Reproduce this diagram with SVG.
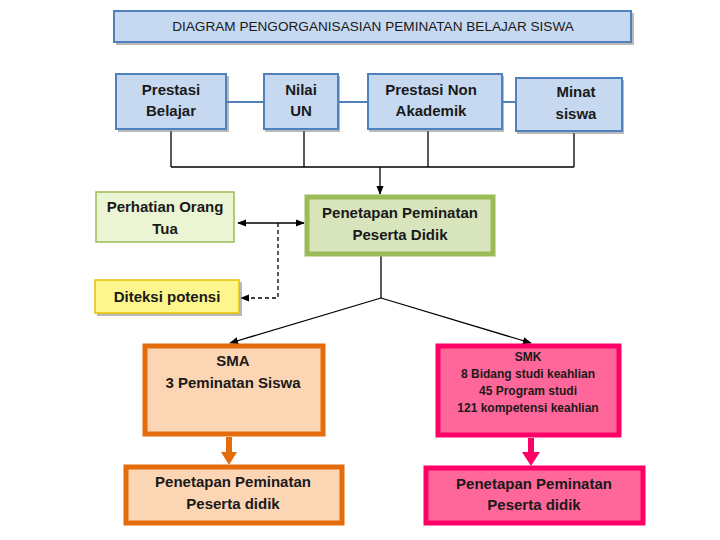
<svg xmlns="http://www.w3.org/2000/svg" width="720" height="540" viewBox="0 0 720 540">
<defs>
<style>
text{font-family:"Liberation Sans","DejaVu Sans",sans-serif;font-weight:bold;fill:#1a1a1a;text-anchor:middle}
.blue{fill:#c6d9f1;stroke:#4f81bd;stroke-width:2}
.sh{fill:#7f7f7f;opacity:0.55}
.t{font-size:15px}
.s{font-size:12px}
.ln{stroke:#000;stroke-width:1.3;fill:none}
.bl{stroke:#4f81bd;stroke-width:2;fill:none}
</style>
<marker id="ah" viewBox="0 0 10 10" refX="9" refY="5" markerWidth="7" markerHeight="7" orient="auto-start-reverse"><path d="M0,1 L10,5 L0,9 z" fill="#000"/></marker>
</defs>
<rect width="720" height="540" fill="#fff"/>
<g id="title">
<rect class="sh" x="116" y="13" width="518" height="32"/>
<rect class="blue" x="114" y="11" width="517" height="31"/>
<text x="373" y="31" style="font-size:13.6px;font-weight:normal">DIAGRAM PENGORGANISASIAN PEMINATAN BELAJAR SISWA</text>
</g>
<g id="connectors">
<line class="bl" x1="226" y1="102" x2="264" y2="102"/>
<line class="bl" x1="338" y1="102" x2="368" y2="102"/>
<line class="bl" x1="502" y1="102" x2="516" y2="102"/>
<path class="ln" d="M171,131 V167 M304,131 V167 M428,131 V167 M574,133 V167 M171,167 H574"/>
<line class="ln" x1="380" y1="167" x2="380" y2="194" marker-end="url(#ah)"/>
<line class="ln" x1="238" y1="223" x2="304" y2="223" marker-start="url(#ah)" marker-end="url(#ah)"/>
<path class="ln" d="M278,223 V298 H241" stroke-dasharray="4,3" marker-end="url(#ah)"/>
<path class="ln" d="M381,256 V298"/>
<line class="ln" x1="381" y1="298" x2="230" y2="343" marker-end="url(#ah)"/>
<line class="ln" x1="381" y1="298" x2="531" y2="343" marker-end="url(#ah)"/>
<path d="M226,437 V452 H221 L229,465 L237,452 H232 V437 z" fill="#e46c0a"/>
<path d="M528,438 V452 H522 L531,466 L540,452 H534 V438 z" fill="#ff0066"/>
</g>
<g id="n-prestasi-belajar">
<rect class="sh" x="118" y="76" width="111" height="56"/>
<rect class="blue" x="116" y="74" width="110" height="55"/>
<text class="t" x="171" y="95">Prestasi</text>
<text class="t" x="171" y="116">Belajar</text>
</g>
<g id="n-nilai-un">
<rect class="sh" x="265" y="76" width="75" height="56"/>
<rect class="blue" x="264" y="74" width="74" height="55"/>
<text class="t" x="301" y="95">Nilai</text>
<text class="t" x="301" y="116">UN</text>
</g>
<g id="n-prestasi-non">
<rect class="sh" x="369" y="76" width="135" height="56"/>
<rect class="blue" x="368" y="74" width="134" height="55"/>
<text class="t" x="431" y="95">Prestasi Non</text>
<text class="t" x="431" y="116">Akademik</text>
</g>
<g id="n-minat">
<rect class="sh" x="517" y="80" width="107" height="54"/>
<rect class="blue" x="516" y="78" width="106" height="53"/>
<text class="t" x="576" y="97">Minat</text>
<text class="t" x="576" y="119">siswa</text>
</g>
<g id="n-perhatian">
<rect x="96" y="192" width="138" height="50" fill="#ebf5d3" stroke="#9bbb59" stroke-width="1.5"/>
<text class="t" x="165" y="212">Perhatian Orang</text>
<text class="t" x="165" y="234">Tua</text>
</g>
<g id="n-penetapan">
<rect x="307" y="197" width="186" height="57" fill="#d8e4bc" stroke="#9bbb59" stroke-width="5"/>
<text class="t" x="400" y="218">Penetapan Peminatan</text>
<text class="t" x="400" y="240">Peserta Didik</text>
</g>
<g id="n-diteksi">
<rect class="sh" x="97" y="282" width="145" height="34"/>
<rect x="95" y="280" width="144" height="33" fill="#fdf68c" stroke="#e8c000" stroke-width="1.5"/>
<text class="t" x="167" y="302">Diteksi potensi</text>
</g>
<g id="n-sma">
<rect x="145" y="346" width="178" height="88" fill="#fcd5b4" stroke="#e46c0a" stroke-width="5"/>
<text class="t" x="233" y="366">SMA</text>
<text class="t" x="233" y="388">3 Peminatan Siswa</text>
</g>
<g id="n-smk">
<rect x="438" y="346" width="181" height="89" fill="#ff6699" stroke="#ff0066" stroke-width="5"/>
<text class="s" x="528" y="361">SMK</text>
<text class="s" x="528" y="378">8 Bidang studi keahlian</text>
<text class="s" x="528" y="395">45  Program studi</text>
<text class="s" x="528" y="412">121 kompetensi keahlian</text>
</g>
<g id="n-penetapan-sma">
<rect x="126" y="467" width="216" height="56" fill="#fcd5b4" stroke="#e46c0a" stroke-width="5"/>
<text class="t" x="233" y="487">Penetapan Peminatan</text>
<text class="t" x="233" y="509">Peserta didik</text>
</g>
<g id="n-penetapan-smk">
<rect x="426" y="468" width="217" height="55" fill="#ff6699" stroke="#ff0066" stroke-width="5"/>
<text class="t" x="534" y="489">Penetapan Peminatan</text>
<text class="t" x="534" y="510">Peserta didik</text>
</g>
</svg>
